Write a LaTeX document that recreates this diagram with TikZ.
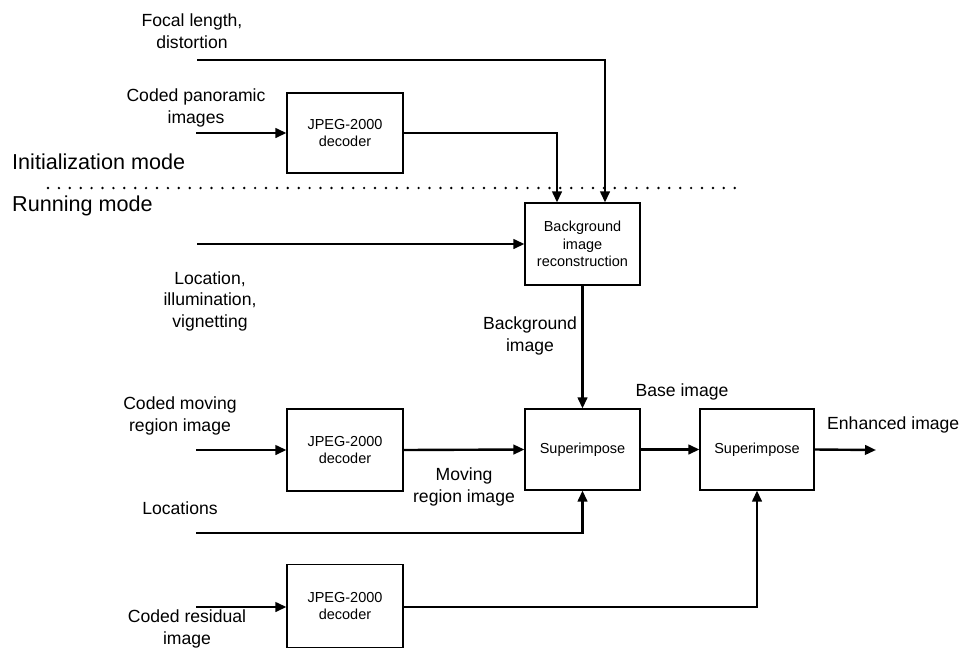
\documentclass[tikz,border=0pt]{standalone}
\usepackage{fontspec}
\setmainfont{Liberation Sans}
\usetikzlibrary{arrows.meta}
\begin{document}
\begin{tikzpicture}[x=1pt,y=-1pt,
  blk/.style={draw,line width=1.1pt,minimum width=115pt,minimum height=81pt,inner sep=0pt,align=center,font=\fontsize{14.5}{17.5}\selectfont},
  lbl/.style={align=center,inner sep=0pt,font=\fontsize{17.6}{21.5}\selectfont},
  modelbl/.style={anchor=west,inner sep=0pt,font=\fontsize{21.6}{26}\selectfont},
  flow/.style={line width=2.4pt,-{Triangle[length=11pt,width=9.5pt]}}]
\useasboundingbox (0,0) rectangle (965,648);

% processing blocks
\node[blk,minimum width=116pt,minimum height=80pt] (dec1) at (345,133) {JPEG-2000\\decoder};
\node[blk,minimum height=82pt] (bgrec) at (582.5,244) {Background\\image\\reconstruction};
\node[blk,minimum width=116pt,minimum height=82pt] (dec2) at (345,450) {JPEG-2000\\decoder};
\node[blk] (sup1) at (582.5,449.5) {Superimpose};
\node[blk,minimum width=114pt] (sup2) at (757,449.5) {Superimpose};
\node[blk,minimum width=116pt,minimum height=83pt] (dec3) at (345,606) {JPEG-2000\\decoder};

% free ends and corners of the connectors
\coordinate (fin) at (197,60);
\coordinate (fcor) at (605,60);
\coordinate (pin) at (196,133);
\coordinate (dcor) at (557,133);
\coordinate (lin) at (197,244);
\coordinate (min) at (196,450);
\coordinate (locin) at (196,533);
\coordinate (rin) at (196,607);
\coordinate (out) at (876,450);

% connectors
\draw[flow] (fin) -- (fcor) -- (fcor |- bgrec.north);
\draw[flow] (pin) -- (dec1.west);
\draw[flow] (dec1.east) -- (dcor) -- (dcor |- bgrec.north);
\draw[flow] (lin) -- (bgrec.west);
\draw[flow] (bgrec.south) -- (sup1.north);
\draw[flow] (min) -- (dec2.west);
\draw[flow] (dec2.east) -- (sup1.west);
\draw[flow] (locin) -| (sup1.south);
\draw[flow] (sup1.east) -- (sup2.west);
\draw[flow] (sup2.east) -- (out);
\draw[flow] (rin) -- (dec3.west |- rin);
\draw[flow] (dec3.east |- rin) -| (sup2.south);

% boundary between the two modes
\foreach \i in {0,...,63} \fill (48+10.9*\i,188) circle (1.35pt);
\node[modelbl] (initmode) at (12,162) {Initialization mode};
\node[modelbl] (runmode) at (12,206) {Running mode};

% signal labels
\node[lbl] (focal) at (192,31) {Focal length,\\distortion};
\node[lbl] (pano) at (196,108) {Coded panoramic\\images};
\node[lbl] (locill) at (210,301) {Location,\\illumination,\\vignetting};
\node[lbl] (bgimg) at (530,336) {Background\\image};
\node[lbl] (codmov) at (180,416) {Coded moving\\region image};
\node[lbl] (movreg) at (464,487) {Moving\\region image};
\node[lbl] (locs) at (180,508) {Locations};
\node[lbl] (base) at (682,392) {Base image};
\node[lbl,anchor=west] (enh) at (827,425) {Enhanced image};
\node[lbl] (codres) at (187,629) {Coded residual\\image};
\end{tikzpicture}
\end{document}
